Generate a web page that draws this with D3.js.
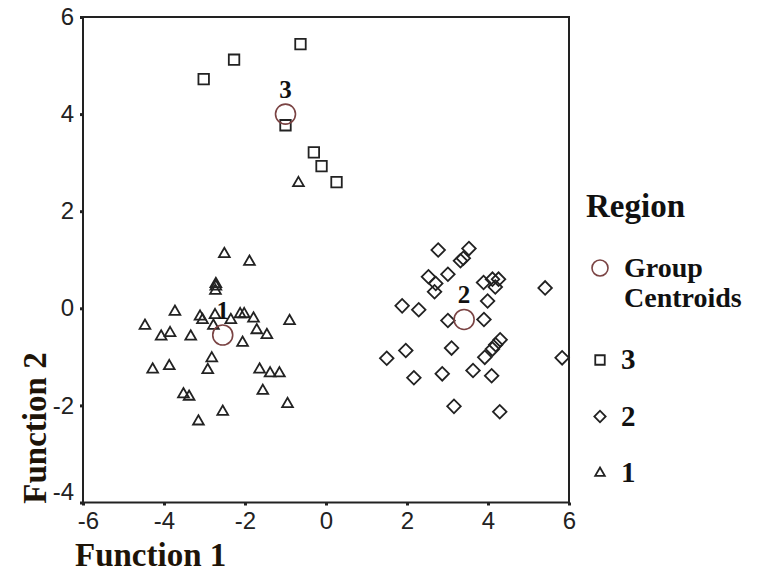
<!DOCTYPE html>
<html>
<head>
<meta charset="utf-8">
<script src="https://cdn.jsdelivr.net/npm/d3@7"></script>
<style>
body { margin: 0; background: #fff; }
</style>
</head>
<body>
<script>
var width = 760, height = 573;

// region 3 (squares)
var region3X = [-3.02, -2.27, -0.63, -1.00, -0.30, -0.11, 0.26];
var region3Y = [4.72, 5.12, 5.44, 3.77, 3.21, 2.93, 2.60];

// region 2 (diamonds)
var region2X = [2.77, 3.53, 3.39, 3.32, 2.53, 2.71, 2.68, 3.01, 3.89, 4.11, 4.26, 4.18, 5.41, 1.88, 2.29, 3.99,
                3.01, 3.90, 3.10, 4.30, 4.19, 4.11, 3.92, 1.97, 1.50, 5.83, 2.17, 2.87, 3.63, 4.09, 3.16, 4.29];
var region2Y = [1.20, 1.23, 1.03, 0.98, 0.65, 0.51, 0.34, 0.70, 0.53, 0.60, 0.60, 0.44, 0.42, 0.05, -0.03, 0.15,
                -0.25, -0.23, -0.82, -0.65, -0.75, -0.84, -1.01, -0.87, -1.03, -1.02, -1.43, -1.35, -1.28, -1.39, -2.02, -2.13];

// region 1 (triangles)
var region1X = [-2.51, -1.89, -2.72, -2.72, -2.73, -0.68, -3.73, -4.47, -4.07, -3.85, -3.34, -3.11, -3.05, -2.78,
                -2.74, -2.35, -2.12, -2.02, -1.79, -1.71, -1.46, -0.90, -2.06, -2.82, -2.92, -4.28, -3.87, -1.64,
                -1.38, -1.15, -1.56, -3.52, -3.38, -2.55, -3.15, -0.95];
var region1Y = [1.12, 0.96, 0.50, 0.45, 0.36, 2.58, -0.07, -0.36, -0.58, -0.51, -0.58, -0.17, -0.24, -0.36,
                -0.14, -0.24, -0.12, -0.12, -0.21, -0.45, -0.55, -0.26, -0.71, -1.03, -1.27, -1.26, -1.19, -1.26,
                -1.34, -1.34, -1.70, -1.77, -1.82, -2.13, -2.33, -1.97];

// group centroids
var centroidLabels = ["1", "2", "3"];
var centroidX = [-2.55, 3.41, -1.00];
var centroidY = [-0.55, -0.23, 4.00];

var xTicks = [-6, -4, -2, 0, 2, 4, 6];
var yTicks = [-4, -2, 0, 2, 4, 6];
var legendLabels = ["3", "2", "1"];

var margin = {left: 83, top: 17, right: 191, bottom: 70};
var plotW = 569 - margin.left;
var plotH = 502.5 - margin.top;

var svg = d3.select("body").append("svg")
    .attr("width", width)
    .attr("height", height);

var x = d3.scaleLinear().domain([-6, 6]).range([margin.left, margin.left + plotW]);
var y = d3.scaleLinear().domain([-4, 6]).range([margin.top + plotH, margin.top]);

var ink = "#222";
var centroidColor = "#7a4343";
var titleColor = "#1e1408";

// frame
svg.append("rect")
    .attr("x", margin.left)
    .attr("y", margin.top)
    .attr("width", plotW)
    .attr("height", plotH)
    .attr("fill", "none")
    .attr("stroke", ink)
    .attr("stroke-width", 2);

var xAxis = svg.append("g")
    .attr("transform", "translate(0," + (margin.top + plotH) + ")")
    .call(d3.axisBottom(x).tickValues(xTicks).tickSize(3).tickPadding(6).tickFormat(d3.format("d")));

var yAxis = svg.append("g")
    .attr("transform", "translate(" + margin.left + ",0)")
    .call(d3.axisLeft(y).tickValues(yTicks).tickSize(3).tickPadding(6).tickFormat(d3.format("d")));

[xAxis, yAxis].forEach(function(ax) {
    ax.select(".domain").remove();
    ax.selectAll(".tick line").attr("stroke", ink).attr("stroke-width", 3);
    ax.selectAll(".tick text")
      .attr("font-family", "Liberation Sans, Arial, sans-serif")
      .attr("font-size", 24)
      .attr("fill", ink);
});
// minus sign as plain hyphen like the original
xAxis.selectAll(".tick text").text(function(d) { return String(d); });
yAxis.selectAll(".tick text").text(function(d) { return String(d); });
// the lowest y label and the first x label are nudged away from the corner
yAxis.selectAll(".tick text").filter(function(d) { return d === -4; }).attr("dy", "-0.12em");
xAxis.selectAll(".tick text").filter(function(d) { return d === -6; }).attr("dx", "0.2em");

// marker shapes
var squareSym = d3.symbol().type(d3.symbolSquare).size(110);
var diamondSym = d3.symbol().type(d3.symbolSquare).size(92);
var triangleSym = d3.symbol().type(d3.symbolTriangle).size(50);

function drawPoints(xs, ys, sym, rotate) {
    svg.append("g").selectAll("path")
        .data(xs)
        .enter().append("path")
        .attr("d", sym)
        .attr("transform", function(d, i) {
            return "translate(" + x(xs[i]) + "," + y(ys[i]) + ")" + (rotate ? " rotate(45)" : "");
        })
        .attr("fill", "none")
        .attr("stroke", ink)
        .attr("stroke-width", 1.8);
}

drawPoints(region1X, region1Y, triangleSym, false);
drawPoints(region2X, region2Y, diamondSym, true);
drawPoints(region3X, region3Y, squareSym, false);

// centroids
var cg = svg.append("g");
cg.selectAll("circle")
    .data(centroidX)
    .enter().append("circle")
    .attr("cx", function(d) { return x(d); })
    .attr("cy", function(d, i) { return y(centroidY[i]); })
    .attr("r", 10)
    .attr("fill", "none")
    .attr("stroke", centroidColor)
    .attr("stroke-width", 1.6);

cg.selectAll("text")
    .data(centroidLabels)
    .enter().append("text")
    .attr("x", function(d, i) { return x(centroidX[i]); })
    .attr("y", function(d, i) { return y(centroidY[i]) - 16; })
    .attr("text-anchor", "middle")
    .attr("font-family", "Liberation Serif, Times New Roman, serif")
    .attr("font-weight", "bold")
    .attr("font-size", 25)
    .attr("fill", "#111")
    .text(function(d) { return d; });

// axis titles
svg.append("text")
    .attr("x", 75)
    .attr("y", 566)
    .attr("font-family", "Liberation Serif, Times New Roman, serif")
    .attr("font-weight", "bold")
    .attr("font-size", 33)
    .attr("fill", titleColor)
    .text("Function 1");

svg.append("text")
    .attr("transform", "translate(46,428) rotate(-90)")
    .attr("text-anchor", "middle")
    .attr("font-family", "Liberation Serif, Times New Roman, serif")
    .attr("font-weight", "bold")
    .attr("font-size", 33)
    .attr("fill", titleColor)
    .text("Function 2");

// legend
var legend = svg.append("g").attr("font-family", "Liberation Serif, Times New Roman, serif")
    .attr("font-weight", "bold").attr("fill", "#111");

legend.append("text").attr("x", 586).attr("y", 217).attr("font-size", 33).text("Region");

legend.append("circle")
    .attr("cx", 600).attr("cy", 268).attr("r", 8)
    .attr("fill", "none").attr("stroke", centroidColor).attr("stroke-width", 1.6);
legend.append("text").attr("x", 624).attr("y", 277).attr("font-size", 28).text("Group");
legend.append("text").attr("x", 624).attr("y", 307).attr("font-size", 28).text("Centroids");

var legendSyms = [
    {sym: d3.symbol().type(d3.symbolSquare).size(90), rot: false},
    {sym: d3.symbol().type(d3.symbolSquare).size(64), rot: true},
    {sym: d3.symbol().type(d3.symbolTriangle).size(40), rot: false}
];
var legendY = d3.scalePoint().domain(legendLabels).range([360, 473]);

legendLabels.forEach(function(lab, i) {
    legend.append("path")
        .attr("d", legendSyms[i].sym)
        .attr("transform", "translate(600," + legendY(lab) + ")" + (legendSyms[i].rot ? " rotate(45)" : ""))
        .attr("fill", "none")
        .attr("stroke", ink)
        .attr("stroke-width", 1.8);
    legend.append("text")
        .attr("x", 621)
        .attr("y", legendY(lab) + 9)
        .attr("font-size", 29)
        .text(lab);
});
</script>
</body>
</html>
